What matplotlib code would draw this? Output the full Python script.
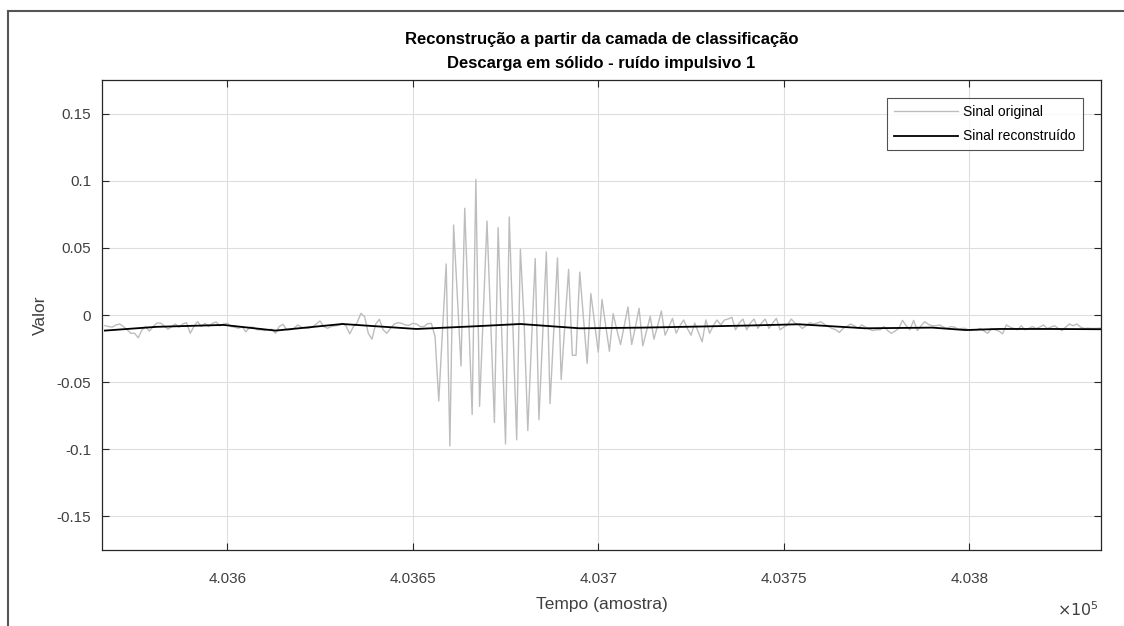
import numpy as np
import matplotlib
matplotlib.use('Agg')
import matplotlib.pyplot as plt
from matplotlib.lines import Line2D

plt.rcParams['font.family'] = ['Liberation Sans', 'DejaVu Sans']

# first sample number of the excerpt
start_sample = 403567

# original signal, one value per sample
original = [
    -0.0079, -0.0086, -0.0090, -0.0074, -0.0067, -0.0086, -0.0110, -0.0136, -0.0136, -0.0170,
    -0.0110, -0.0086, -0.0120, -0.0086, -0.0060, -0.0060, -0.0081, -0.0106, -0.0086, -0.0067,
    -0.0091, -0.0067, -0.0057, -0.0136, -0.0086, -0.0049, -0.0086, -0.0062, -0.0086, -0.0062,
    -0.0052, -0.0081, -0.0067, -0.0062, -0.0086, -0.0091, -0.0099, -0.0086, -0.0126, -0.0091,
    -0.0091, -0.0110, -0.0110, -0.0116, -0.0110, -0.0106, -0.0136, -0.0086, -0.0069, -0.0110,
    -0.0110, -0.0099, -0.0074, -0.0091, -0.0099, -0.0099, -0.0086, -0.0067, -0.0044, -0.0086,
    -0.0099, -0.0086, -0.0081, -0.0077, -0.0062, -0.0081, -0.0140, -0.0086, -0.0057, 0.0012,
    -0.0012, -0.0136, -0.0180, -0.0067, -0.0032, -0.0110, -0.0136, -0.0099, -0.0067, -0.0057,
    -0.0062, -0.0074, -0.0077, -0.0062, -0.0067, -0.0086, -0.0086, -0.0065, -0.0062, -0.0160,
    -0.0640, -0.0120, 0.0380, -0.0975, 0.0670, 0.0145, -0.0380, 0.0795, 0.0030, -0.0740,
    0.1010, -0.0680, 0.0010, 0.0700, -0.0050, -0.0800, 0.0650, -0.0150, -0.0960, 0.0730,
    -0.0100, -0.0930, 0.0490, -0.0050, -0.0860, -0.0200, 0.0420, -0.0780, -0.0150, 0.0470,
    -0.0660, -0.0120, 0.0425, -0.0480, -0.0070, 0.0340, -0.0300, -0.0300, 0.0320, -0.0020,
    -0.0360, 0.0160, -0.0060, -0.0277, 0.0116, -0.0080, -0.0270, 0.0010, -0.0110, -0.0220,
    -0.0080, 0.0060, -0.0220, -0.0090, 0.0050, -0.0230, -0.0120, -0.0010, -0.0180, -0.0080,
    0.0030, -0.0150, -0.0090, -0.0025, -0.0136, -0.0080, -0.0037, -0.0100, -0.0150, -0.0060,
    -0.0130, -0.0200, -0.0037, -0.0136, -0.0080, -0.0037, -0.0074, -0.0037, -0.0030, -0.0017,
    -0.0110, -0.0060, -0.0030, -0.0110, -0.0060, -0.0030, -0.0100, -0.0060, -0.0030, -0.0100,
    -0.0060, -0.0025, -0.0110, -0.0090, -0.0074, -0.0030, -0.0060, -0.0074, -0.0100, -0.0080,
    -0.0057, -0.0067, -0.0060, -0.0050, -0.0070, -0.0086, -0.0100, -0.0110, -0.0130, -0.0100,
    -0.0086, -0.0067, -0.0080, -0.0100, -0.0074, -0.0090, -0.0106, -0.0116, -0.0110, -0.0110,
    -0.0086, -0.0116, -0.0136, -0.0120, -0.0100, -0.0040, -0.0080, -0.0110, -0.0040, -0.0116,
    -0.0080, -0.0050, -0.0070, -0.0080, -0.0080, -0.0074, -0.0090, -0.0100, -0.0086, -0.0090,
    -0.0106, -0.0100, -0.0100, -0.0116, -0.0110, -0.0110, -0.0100, -0.0120, -0.0136, -0.0100,
    -0.0110, -0.0120, -0.0140, -0.0074, -0.0090, -0.0100, -0.0110, -0.0080, -0.0110, -0.0100,
    -0.0086, -0.0100, -0.0090, -0.0074, -0.0100, -0.0090, -0.0080, -0.0100, -0.0116, -0.0090,
    -0.0067, -0.0080, -0.0067, -0.0090, -0.0100, -0.0098, -0.0100, -0.0100, -0.0098, -0.0098,
]

# reconstructed signal (slowly varying), sample offsets and values
rec_offsets = [0, 14, 32, 46, 64, 84, 99, 112, 128, 145, 160, 174, 187, 205, 223, 232, 241, 255, 269]
reconstructed = [-0.0116, -0.0088, -0.0074, -0.0116, -0.0067, -0.0104, -0.0085, -0.0067, -0.0099,
                 -0.0094, -0.0086, -0.0078, -0.0069, -0.0099, -0.0094, -0.0112, -0.0104, -0.0104, -0.0106]

x_ticks = [403600, 403650, 403700, 403750, 403800]
x_ticklabels = ['4.036', '4.0365', '4.037', '4.0375', '4.038']
y_ticks = [-0.15, -0.1, -0.05, 0, 0.05, 0.1, 0.15]
y_ticklabels = ['-0.15', '-0.1', '-0.05', '0', '0.05', '0.1', '0.15']

t_orig = start_sample + np.arange(len(original))
t_rec = start_sample + np.array(rec_offsets)

fig = plt.figure(figsize=(11.24, 6.26), dpi=100)
ax = fig.add_axes([0.091, 0.1214, 0.8885, 0.7508])

ax.plot(t_orig, original, color='#bdbdbd', lw=1.0, label='Sinal original')
ax.plot(t_rec, reconstructed, color='black', lw=1.3, label='Sinal reconstruído')

ax.set_xlim(403566.3, 403835.5)
ax.set_ylim(-0.175, 0.175)
ax.set_xticks(x_ticks)
ax.set_xticklabels(x_ticklabels)
ax.set_yticks(y_ticks)
ax.set_yticklabels(y_ticklabels)

ax.grid(True, color='#dedede', lw=0.8)
ax.set_axisbelow(True)
ax.tick_params(direction='in', length=5, width=0.8, colors='#262626', labelsize=11,
               top=True, right=True, labelcolor='#404040')
ax.tick_params(axis='x', pad=16)
ax.tick_params(axis='y', pad=8)
for s in ax.spines.values():
    s.set_color('#262626')
    s.set_linewidth(0.9)

ax.set_xlabel('Tempo (amostra)', fontsize=12.5, color='#404040', labelpad=8)
ax.set_ylabel('Valor', fontsize=12.5, color='#404040', labelpad=6)
ax.set_title('Reconstrução a partir da camada de classificação\nDescarga em sólido - ruído impulsivo 1',
             fontsize=12, fontweight='bold', color='black', linespacing=1.7, pad=9)

ax.text(0.998, -0.106, r'$\times10^5$', transform=ax.transAxes, ha='right', va='top',
        fontsize=11.5, color='#404040')

leg = ax.legend(loc='upper right', fontsize=10, frameon=True, fancybox=False,
                borderaxespad=1.3, handlelength=4.6, handletextpad=0.4,
                borderpad=0.5, labelspacing=0.75)
leg.get_frame().set_edgecolor('#262626')
leg.get_frame().set_linewidth(0.8)

# window frame seen at the top-left of the screenshot
fig.add_artist(Line2D([8 / 1124, 8 / 1124], [0, 1 - 11 / 626], color='#555555', lw=1.5))
fig.add_artist(Line2D([8 / 1124, 1], [1 - 11 / 626, 1 - 11 / 626], color='#555555', lw=1.5))

fig.savefig('out.png', dpi=100)
